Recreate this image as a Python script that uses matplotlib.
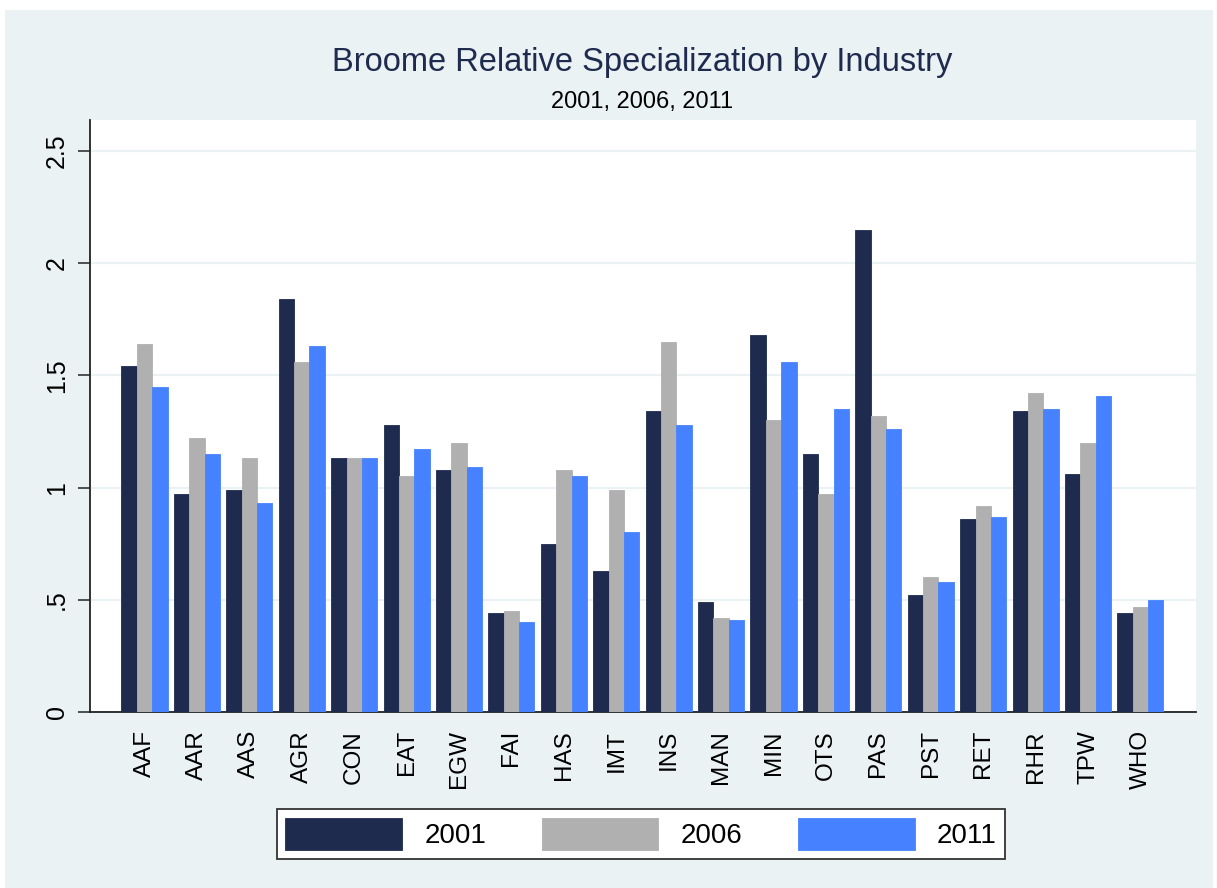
import matplotlib.pyplot as plt
import matplotlib.patches as mpatches
import numpy as np

plt.rcParams['font.family'] = ['Liberation Sans', 'DejaVu Sans']

# industries and relative specialization values
industries = ['AAF', 'AAR', 'AAS', 'AGR', 'CON', 'EAT', 'EGW', 'FAI', 'HAS', 'IMT',
              'INS', 'MAN', 'MIN', 'OTS', 'PAS', 'PST', 'RET', 'RHR', 'TPW', 'WHO']
v2001 = [1.54, 0.97, 0.99, 1.84, 1.13, 1.28, 1.08, 0.44, 0.75, 0.63,
         1.34, 0.49, 1.68, 1.15, 2.15, 0.52, 0.86, 1.34, 1.06, 0.44]
v2006 = [1.64, 1.22, 1.13, 1.56, 1.13, 1.05, 1.20, 0.45, 1.08, 0.99,
         1.65, 0.42, 1.30, 0.97, 1.32, 0.60, 0.92, 1.42, 1.20, 0.47]
v2011 = [1.45, 1.15, 0.93, 1.63, 1.13, 1.17, 1.09, 0.40, 1.05, 0.80,
         1.28, 0.41, 1.56, 1.35, 1.26, 0.58, 0.87, 1.35, 1.41, 0.50]
years = ['2001', '2006', '2011']
yticks = [0, 0.5, 1, 1.5, 2, 2.5]
ytick_labels = ['0', '.5', '1', '1.5', '2', '2.5']

bg = '#eaf2f3'
colors = ['#1e2b4f', '#b0b0b0', '#4682ff']
navy = '#1e2b4f'

fig = plt.figure(figsize=(12.17, 8.88), dpi=100, facecolor='white')
fig.patches.append(mpatches.Rectangle((5 / 1217, 0), 1208 / 1217, 878 / 888,
                                      transform=fig.transFigure, facecolor=bg,
                                      edgecolor='none', zorder=-5))

ax = fig.add_axes([90 / 1217, 176 / 888, 1106 / 1217, 592 / 888])
ax.set_facecolor('white')

x = np.arange(len(industries))
w = 0.293
for i, (vals, col) in enumerate(zip([v2001, v2006, v2011], colors)):
    ax.bar(x + (i - 1) * w, vals, width=w, color=col, edgecolor=col,
           linewidth=0.6, label=years[i], zorder=3)

ax.set_xlim(-1.04, 20.06)
ax.set_ylim(0, 2.638)
ax.set_yticks(yticks)
ax.set_yticklabels(ytick_labels, rotation=90, va='center', fontsize=18)
ax.yaxis.grid(True, color=bg, linewidth=1.5, zorder=0)
ax.set_axisbelow(True)

ax.set_xticks(x)
ax.set_xticklabels(industries, rotation=90, fontsize=17.5, va='top', ha='center')
ax.tick_params(axis='x', length=0, pad=13)
ax.tick_params(axis='y', length=9, width=1.2, color='#333333', pad=6)

for s in ['top', 'right']:
    ax.spines[s].set_visible(False)
for s in ['left', 'bottom']:
    ax.spines[s].set_color('#222222')
    ax.spines[s].set_linewidth(1.3)

fig.text(642 / 1217, 1 - 63 / 888, 'Broome Relative Specialization by Industry',
         ha='center', va='center', fontsize=23.5, color=navy)
fig.text(642 / 1217, 1 - 102 / 888, '2001, 2006, 2011',
         ha='center', va='center', fontsize=17, color='black')

leg = fig.legend(loc='center', bbox_to_anchor=(641 / 1217, 1 - 834 / 888),
                 ncol=3, fontsize=20, handlelength=4.2, handleheight=1.45,
                 columnspacing=2.0, handletextpad=0.8, borderpad=0.3,
                 fancybox=False, framealpha=1, edgecolor='#333333')
leg.get_frame().set_linewidth(1.3)

fig.savefig('out.png', dpi=100, facecolor=fig.get_facecolor())
